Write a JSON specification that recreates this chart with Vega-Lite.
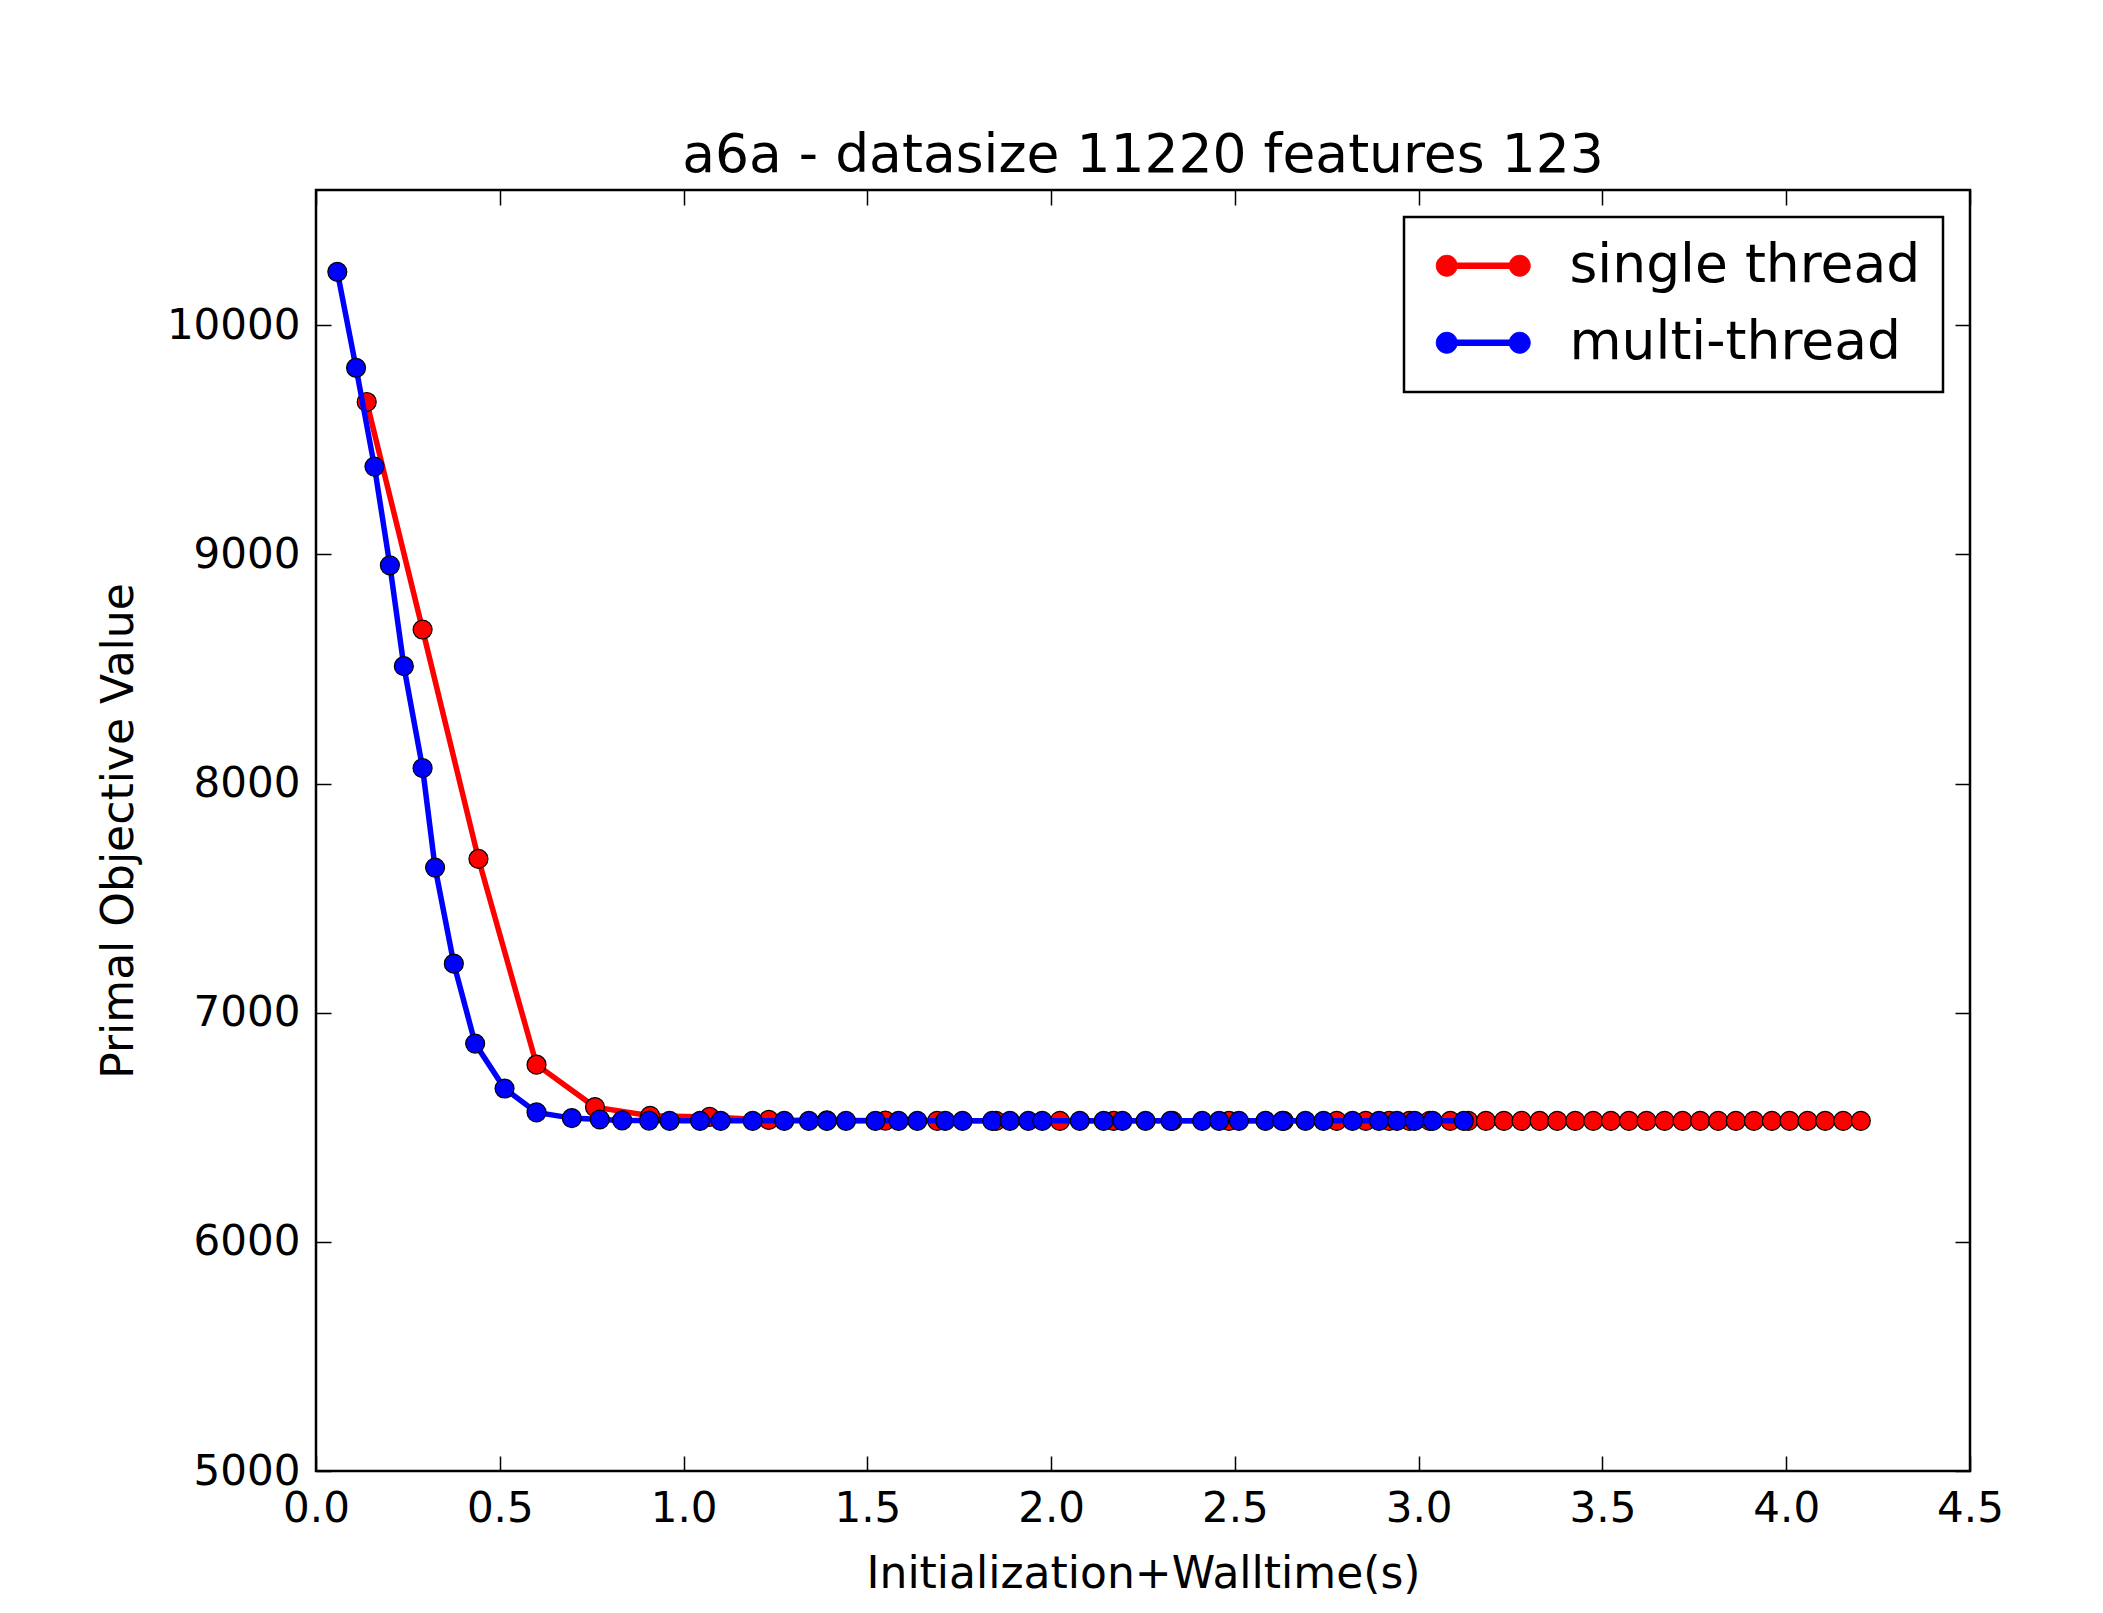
{
  "$schema": "https://vega.github.io/schema/vega-lite/v6.json",
  "autosize": "none",
  "width": 1654,
  "height": 1281,
  "padding": {"left": 316, "top": 190, "right": 133, "bottom": 142},
  "background": "white",
  "config": {
    "font": "DejaVu Sans",
    "view": {"stroke": "black", "strokeWidth": 2.5},
    "axis": {
      "labelFont": "DejaVu Sans", "titleFont": "DejaVu Sans",
      "labelFontSize": 42, "titleFontSize": 44, "titleFontWeight": "normal",
      "labelColor": "black", "titleColor": "black",
      "tickColor": "black", "tickWidth": 1.5, "tickSize": -15,
      "grid": false, "domain": false,
      "labelFlush": false, "labelOverlap": false, "labelBound": false
    }
  },
  "title": {
    "text": "a6a - datasize 11220 features 123",
    "fontSize": 53.5, "fontWeight": "normal", "color": "black",
    "font": "DejaVu Sans", "anchor": "middle", "baseline": "alphabetic", "offset": 18, "dy": 54
  },
  "data": {"values": [
    {"series": "single thread", "t": 0.138, "v": 9665},
    {"series": "single thread", "t": 0.290, "v": 8672},
    {"series": "single thread", "t": 0.442, "v": 7671},
    {"series": "single thread", "t": 0.600, "v": 6773},
    {"series": "single thread", "t": 0.759, "v": 6588},
    {"series": "single thread", "t": 0.909, "v": 6550},
    {"series": "single thread", "t": 1.071, "v": 6545},
    {"series": "single thread", "t": 1.232, "v": 6532},
    {"series": "single thread", "t": 1.390, "v": 6530},
    {"series": "single thread", "t": 1.549, "v": 6529},
    {"series": "single thread", "t": 1.690, "v": 6528},
    {"series": "single thread", "t": 1.850, "v": 6528},
    {"series": "single thread", "t": 2.024, "v": 6528},
    {"series": "single thread", "t": 2.170, "v": 6528},
    {"series": "single thread", "t": 2.330, "v": 6528},
    {"series": "single thread", "t": 2.484, "v": 6528},
    {"series": "single thread", "t": 2.633, "v": 6528},
    {"series": "single thread", "t": 2.777, "v": 6528},
    {"series": "single thread", "t": 2.856, "v": 6528},
    {"series": "single thread", "t": 2.920, "v": 6528},
    {"series": "single thread", "t": 2.975, "v": 6528},
    {"series": "single thread", "t": 3.030, "v": 6528},
    {"series": "single thread", "t": 3.086, "v": 6528},
    {"series": "single thread", "t": 3.135, "v": 6528},
    {"series": "single thread", "t": 3.183, "v": 6528},
    {"series": "single thread", "t": 3.232, "v": 6528},
    {"series": "single thread", "t": 3.280, "v": 6528},
    {"series": "single thread", "t": 3.329, "v": 6528},
    {"series": "single thread", "t": 3.377, "v": 6528},
    {"series": "single thread", "t": 3.426, "v": 6528},
    {"series": "single thread", "t": 3.475, "v": 6528},
    {"series": "single thread", "t": 3.523, "v": 6528},
    {"series": "single thread", "t": 3.572, "v": 6528},
    {"series": "single thread", "t": 3.620, "v": 6528},
    {"series": "single thread", "t": 3.669, "v": 6528},
    {"series": "single thread", "t": 3.718, "v": 6528},
    {"series": "single thread", "t": 3.766, "v": 6528},
    {"series": "single thread", "t": 3.815, "v": 6528},
    {"series": "single thread", "t": 3.863, "v": 6528},
    {"series": "single thread", "t": 3.912, "v": 6528},
    {"series": "single thread", "t": 3.961, "v": 6528},
    {"series": "single thread", "t": 4.009, "v": 6528},
    {"series": "single thread", "t": 4.058, "v": 6528},
    {"series": "single thread", "t": 4.106, "v": 6528},
    {"series": "single thread", "t": 4.155, "v": 6528},
    {"series": "single thread", "t": 4.203, "v": 6528},
    {"series": "multi-thread", "t": 0.058, "v": 10233},
    {"series": "multi-thread", "t": 0.109, "v": 9814},
    {"series": "multi-thread", "t": 0.159, "v": 9383},
    {"series": "multi-thread", "t": 0.201, "v": 8952},
    {"series": "multi-thread", "t": 0.239, "v": 8512},
    {"series": "multi-thread", "t": 0.290, "v": 8067},
    {"series": "multi-thread", "t": 0.324, "v": 7633},
    {"series": "multi-thread", "t": 0.375, "v": 7214},
    {"series": "multi-thread", "t": 0.433, "v": 6865},
    {"series": "multi-thread", "t": 0.513, "v": 6669},
    {"series": "multi-thread", "t": 0.600, "v": 6565},
    {"series": "multi-thread", "t": 0.696, "v": 6540},
    {"series": "multi-thread", "t": 0.772, "v": 6534},
    {"series": "multi-thread", "t": 0.833, "v": 6530},
    {"series": "multi-thread", "t": 0.906, "v": 6529},
    {"series": "multi-thread", "t": 0.962, "v": 6528},
    {"series": "multi-thread", "t": 1.045, "v": 6528},
    {"series": "multi-thread", "t": 1.101, "v": 6528},
    {"series": "multi-thread", "t": 1.188, "v": 6528},
    {"series": "multi-thread", "t": 1.274, "v": 6528},
    {"series": "multi-thread", "t": 1.341, "v": 6528},
    {"series": "multi-thread", "t": 1.390, "v": 6528},
    {"series": "multi-thread", "t": 1.442, "v": 6528},
    {"series": "multi-thread", "t": 1.522, "v": 6528},
    {"series": "multi-thread", "t": 1.585, "v": 6528},
    {"series": "multi-thread", "t": 1.636, "v": 6528},
    {"series": "multi-thread", "t": 1.712, "v": 6528},
    {"series": "multi-thread", "t": 1.759, "v": 6528},
    {"series": "multi-thread", "t": 1.840, "v": 6528},
    {"series": "multi-thread", "t": 1.888, "v": 6528},
    {"series": "multi-thread", "t": 1.938, "v": 6528},
    {"series": "multi-thread", "t": 1.976, "v": 6528},
    {"series": "multi-thread", "t": 2.078, "v": 6528},
    {"series": "multi-thread", "t": 2.143, "v": 6528},
    {"series": "multi-thread", "t": 2.194, "v": 6528},
    {"series": "multi-thread", "t": 2.257, "v": 6528},
    {"series": "multi-thread", "t": 2.325, "v": 6528},
    {"series": "multi-thread", "t": 2.411, "v": 6528},
    {"series": "multi-thread", "t": 2.457, "v": 6528},
    {"series": "multi-thread", "t": 2.511, "v": 6528},
    {"series": "multi-thread", "t": 2.583, "v": 6528},
    {"series": "multi-thread", "t": 2.629, "v": 6528},
    {"series": "multi-thread", "t": 2.692, "v": 6528},
    {"series": "multi-thread", "t": 2.741, "v": 6528},
    {"series": "multi-thread", "t": 2.820, "v": 6528},
    {"series": "multi-thread", "t": 2.892, "v": 6528},
    {"series": "multi-thread", "t": 2.941, "v": 6528},
    {"series": "multi-thread", "t": 2.989, "v": 6528},
    {"series": "multi-thread", "t": 3.038, "v": 6528},
    {"series": "multi-thread", "t": 3.123, "v": 6528}
  ]},
  "encoding": {
    "x": {"field": "t", "type": "quantitative", "scale": {"domain": [0, 4.5], "nice": false, "zero": false}},
    "y": {"field": "v", "type": "quantitative", "scale": {"domain": [5000, 10590], "nice": false, "zero": false}},
    "color": {
      "field": "series", "type": "nominal",
      "scale": {"domain": ["single thread", "multi-thread"], "range": ["#ff0000", "#0000ff"]},
      "legend": {
        "title": null, "orient": "top-right", "offset": 27,
        "symbolType": "M -0.75 0 A 0.477 0.477 0 1 0 0.204 0 A 0.477 0.477 0 1 0 -0.75 0 Z M 2.568 0 A 0.477 0.477 0 1 0 3.522 0 A 0.477 0.477 0 1 0 2.568 0 Z M 0.19 -0.125 L 2.58 -0.125 L 2.58 0.125 L 0.19 0.125 Z",
        "symbolSize": 1936, "symbolOpacity": 1,
        "labelFontSize": 53.5, "labelFont": "DejaVu Sans", "labelColor": "black", "labelLimit": 0,
        "labelOffset": 90, "rowPadding": 22, "padding": 22,
        "strokeColor": "black", "fillColor": "white", "cornerRadius": 0,
        "encode": {
          "legend": {"update": {"strokeWidth": {"value": 2.5}}},
          "symbols": {"update": {"fill": {"scale": "color", "field": "value"}, "stroke": {"value": "black"}, "strokeWidth": {"value": 1}, "opacity": {"value": 1}}}
        }
      }
    }
  },
  "resolve": {"axis": {"x": "independent", "y": "independent"}},
  "layer": [
    {
      "transform": [{"filter": "datum.series === 'single thread'"}],
      "mark": {"type": "line", "strokeWidth": 5.5},
      "encoding": {
        "x": {"field": "t", "type": "quantitative", "axis": {"orient": "bottom", "title": "Initialization+Walltime(s)", "values": [0, 0.5, 1, 1.5, 2, 2.5, 3, 3.5, 4, 4.5], "format": ".1f", "labelPadding": 32, "titlePadding": 23}},
        "y": {"field": "v", "type": "quantitative", "axis": {"orient": "left", "title": "Primal Objective Value", "values": [5000, 6000, 7000, 8000, 9000, 10000], "format": "d", "labelPadding": 31, "titlePadding": 25}}
      }
    },
    {
      "transform": [{"filter": "datum.series === 'single thread'"}],
      "mark": {"type": "point", "filled": true, "size": 360, "stroke": "black", "strokeWidth": 1.2, "opacity": 1},
      "encoding": {
        "x": {"field": "t", "type": "quantitative", "axis": {"orient": "top", "title": null, "labels": false, "values": [0, 0.5, 1, 1.5, 2, 2.5, 3, 3.5, 4, 4.5]}},
        "y": {"field": "v", "type": "quantitative", "axis": {"orient": "right", "title": null, "labels": false, "values": [5000, 6000, 7000, 8000, 9000, 10000]}}
      }
    },
    {
      "transform": [{"filter": "datum.series === 'multi-thread'"}],
      "mark": {"type": "line", "strokeWidth": 5.5},
      "encoding": {
        "x": {"field": "t", "type": "quantitative", "axis": null},
        "y": {"field": "v", "type": "quantitative", "axis": null}
      }
    },
    {
      "transform": [{"filter": "datum.series === 'multi-thread'"}],
      "mark": {"type": "point", "filled": true, "size": 360, "stroke": "black", "strokeWidth": 1.2, "opacity": 1},
      "encoding": {
        "x": {"field": "t", "type": "quantitative", "axis": null},
        "y": {"field": "v", "type": "quantitative", "axis": null}
      }
    }
  ]
}
